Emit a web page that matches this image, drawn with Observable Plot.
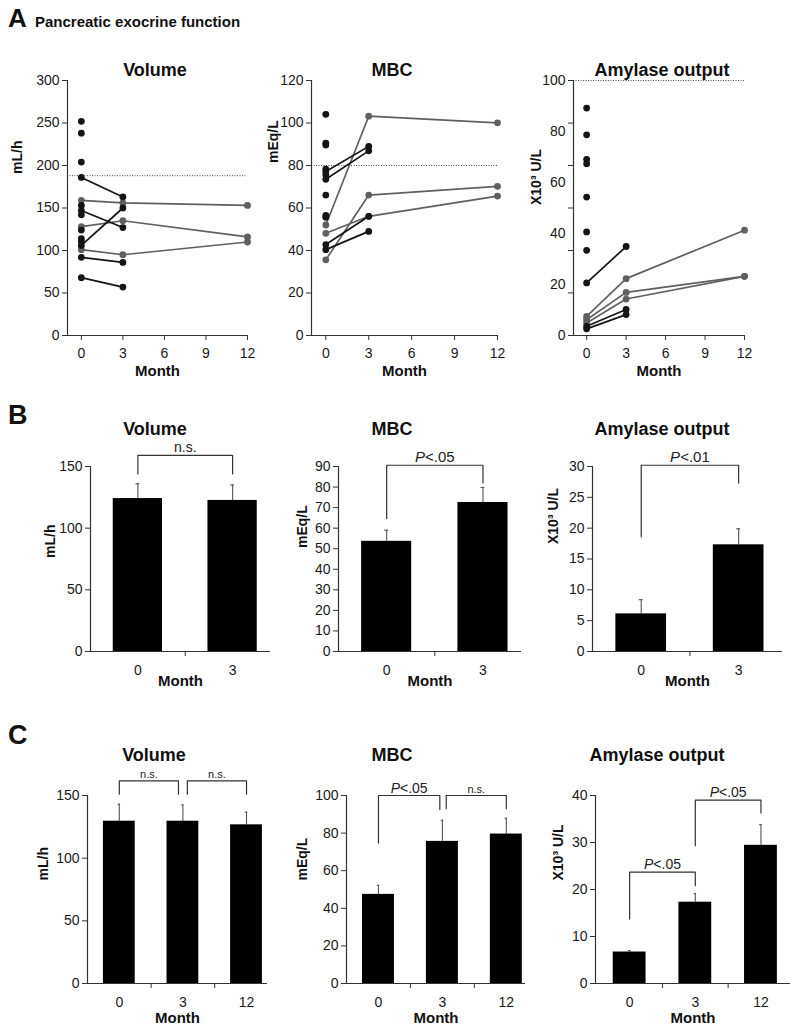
<!DOCTYPE html>
<html>
<head>
<meta charset="utf-8">
<script src="https://cdn.jsdelivr.net/npm/d3@7"></script>
<script src="https://cdn.jsdelivr.net/npm/@observablehq/plot@0.6"></script>
<style>
  html, body { margin: 0; padding: 0; background: #fff; }
  #root { position: relative; width: 800px; height: 1033px; overflow: hidden; background: #fff;
          font-family: 'Liberation Sans', Arial, Helvetica, sans-serif; color: #111; }
  .panel { position: absolute; }
  .lbl { position: absolute; white-space: nowrap; line-height: 1; font-weight: bold; }
</style>
</head>
<body>
<div id="root"></div>
<script>
// ---------------- DATA ----------------
// Panel A: individual patients (months 0, 3, 12)
const monthTicksA = [0, 3, 6, 9, 12];

const volumeA_ticks = [0, 50, 100, 150, 200, 250, 300];
const volumeA_normal = 188;
const volumeA_baselineOnly = [252, 238, 204, 153, 142, 124, 114, 111];
const volumeA_to3 = [[186, 163], [147, 127], [106, 150], [92, 86], [68, 57]];
const volumeA_to12 = [[159, 156, 153], [128, 135, 116], [101, 95, 110]];

const mbcA_ticks = [0, 20, 40, 60, 80, 100, 120];
const mbcA_normal = 80;
const mbcA_baselineOnly = [104.1, 90.5, 89.6, 78.3, 75.6, 66.1, 56.5, 55.6];
const mbcA_to3 = [[77.2, 89], [73.5, 86.9], [42.8, 56.1], [40.4, 49]];
const mbcA_to12 = [[52, 103.2, 100.1], [35.6, 66.1, 70.2], [48.1, 56.1, 65.6]];

const amylaseA_ticks = [0, 20, 40, 60, 80, 100];
const amylaseA_tickMarks = [0, 16.7, 33.3, 50, 66.7, 83.3, 100];
const amylaseA_normal = 100;
const amylaseA_baselineOnly = [89.2, 78.7, 69.1, 67.4, 54.3, 40.6, 33.4];
const amylaseA_to3 = [[20.6, 34.9], [3.6, 10.2], [2.6, 8.2]];
const amylaseA_to12 = [[7.5, 22.3, 41.3], [6.2, 16.9, 23.2], [4.9, 14.3, 23.2]];

// Panel B: mean + SEM, months 0 and 3
const monthsB = ["0", "3"];
const volumeB_mean = [124, 122.5];
const volumeB_sem = [12, 12.5];
const volumeB_ticks = [0, 50, 100, 150];
const mbcB_mean = [53.6, 72.5];
const mbcB_sem = [5.4, 7.3];
const mbcB_ticks = [0, 10, 20, 30, 40, 50, 60, 70, 80, 90];
const amylaseB_mean = [6.1, 17.3];
const amylaseB_sem = [2.3, 2.6];
const amylaseB_ticks = [0, 5, 10, 15, 20, 25, 30];

// Panel C: mean + SEM, months 0, 3, 12
const monthsC = ["0", "3", "12"];
const volumeC_mean = [129.5, 129.5, 126.6];
const volumeC_sem = [13.5, 13, 10.1];
const volumeC_ticks = [0, 50, 100, 150];
const mbcC_mean = [47.4, 75.6, 79.5];
const mbcC_sem = [4.8, 11.2, 8.4];
const mbcC_ticks = [0, 20, 40, 60, 80, 100];
const amylaseC_mean = [6.7, 17.3, 29.4];
const amylaseC_sem = [0.3, 1.8, 4.4];
const amylaseC_ticks = [0, 10, 20, 30, 40];

// Significance brackets: x1/x2 = category index, top = bracket height, y1/y2 = leg ends
const volumeB_brackets = [{x1: 0, x2: 1, top: 159, y1: 144, y2: 144, label: "n.s."}];
const mbcB_brackets = [{x1: 0, x2: 1, top: 90.6, y1: 64.7, y2: 82, label: "P<.05"}];
const amylaseB_brackets = [{x1: 0, x2: 1, top: 30.2, y1: 18.6, y2: 27.3, label: "P<.01"}];
const volumeC_brackets = [
  {x1: 0, x2: 0.93, top: 161.7, y1: 151, y2: 151, label: "n.s."},
  {x1: 1.07, x2: 2, top: 161.7, y1: 151, y2: 151, label: "n.s."}
];
const mbcC_brackets = [
  {x1: 0, x2: 0.96, top: 100, y1: 74.7, y2: 92.5, label: "P<.05"},
  {x1: 1.06, x2: 2, top: 100, y1: 93, y2: 93, label: "n.s."}
];
const amylaseC_brackets = [
  {x1: 0, x2: 1, top: 23.7, y1: 13.7, y2: 20.8, label: "P<.05"},
  {x1: 1, x2: 2, top: 39, y1: 29.3, y2: 36.3, label: "P<.05"}
];

// ---------------- DRAWING ----------------
const FONT = "'Liberation Sans', Arial, Helvetica, sans-serif";
const root = document.getElementById("root");
const baseStyle = {fontFamily: FONT, fontSize: "14px", color: "#1a1a1a", background: "transparent", overflow: "visible"};

function flatten(series, months) {
  const rows = [];
  series.forEach((vals, id) => vals.forEach((v, j) => rows.push({id, month: months[j], value: v})));
  return rows;
}
function yLabelMark(text, dx, dy) {
  return Plot.text([text], {frameAnchor: "left", text: d => d, rotate: -90, dx, dy,
    fontSize: 14, fontWeight: "bold", fill: "#111"});
}
function monthMark(dy) {
  return Plot.text(["Month"], {frameAnchor: "bottom", text: d => d, dy, fontSize: 15, fontWeight: "bold", fill: "#111"});
}
function place(svg, left, top) {
  const d = document.createElement("div");
  d.className = "panel";
  d.style.left = left + "px";
  d.style.top = top + "px";
  d.appendChild(svg);
  root.appendChild(d);
  // italic P in significance labels
  d3.select(svg).selectAll("text").each(function () {
    const t = this.textContent;
    if (/^P</.test(t)) {
      const s = d3.select(this);
      s.text(null);
      s.append("tspan").attr("font-style", "italic").text("P");
      s.append("tspan").text(t.slice(1));
    }
  });
}
function label(text, x, y, size, anchor) {
  const d = document.createElement("div");
  d.className = "lbl";
  d.textContent = text;
  d.style.left = x + "px";
  d.style.top = y + "px";
  d.style.fontSize = size + "px";
  d.style.transform = anchor === "start" ? "translate(0,-50%)" : "translate(-50%,-50%)";
  root.appendChild(d);
}

function scatterPanel(o) {
  const black = "#141414", gray = "#606060";
  const r3 = flatten(o.to3, [0, 3]);
  const r12 = flatten(o.to12, [0, 3, 12]);
  const base = o.baseOnly.map(v => ({month: 0, value: v}));
  const marks = [
    Plot.ruleY([o.normal], {stroke: "#444", strokeDasharray: "1,1.5", strokeWidth: 1}),
    Plot.ruleX([-1], {stroke: "#333", strokeWidth: 1.2}),
    Plot.ruleY([0], {stroke: "#333", strokeWidth: 1.2}),
    Plot.axisX({ticks: monthTicksA, tickSize: 5, tickPadding: 8, stroke: "#333", label: null})
  ];
  if (o.tickMarks) {
    marks.push(Plot.axisY({ticks: o.tickMarks, tickFormat: () => "", tickSize: 5, stroke: "#333", label: null}));
    marks.push(Plot.axisY({ticks: o.ticks, tickSize: 0, tickPadding: 8, label: null}));
  } else {
    marks.push(Plot.axisY({ticks: o.ticks, tickSize: 5, tickPadding: 3, stroke: "#333", label: null}));
  }
  marks.push(
    Plot.line(r12, {x: "month", y: "value", z: "id", stroke: gray, strokeWidth: 1.7}),
    Plot.line(r3, {x: "month", y: "value", z: "id", stroke: black, strokeWidth: 1.7}),
    Plot.dot(r12, {x: "month", y: "value", r: 3.4, fill: gray}),
    Plot.dot(r3, {x: "month", y: "value", r: 3.4, fill: black}),
    Plot.dot(base, {x: "month", y: "value", r: 3.4, fill: black}),
    yLabelMark(o.ylabel, o.ldx, o.ldy),
    monthMark(40)
  );
  return Plot.plot({
    width: o.width, height: 328,
    marginLeft: o.ml, marginRight: o.mr, marginTop: 20, marginBottom: 53,
    style: baseStyle,
    x: {domain: [-1, 12], label: null},
    y: {domain: [0, o.yMax], label: null},
    marks
  });
}

function barPanel(o) {
  const rows = o.cats.map((c, i) => ({i, mean: o.mean[i], hi: o.mean[i] + o.sem[i]}));
  const bRows = [];
  o.brackets.forEach((b, id) => {
    bRows.push({id, x: b.x1, y: b.y1}, {id, x: b.x1, y: b.top}, {id, x: b.x2, y: b.top}, {id, x: b.x2, y: b.y2});
  });
  return Plot.plot({
    width: o.width, height: o.height,
    marginLeft: o.ml, marginRight: o.mr, marginTop: o.mt, marginBottom: o.mb,
    style: baseStyle,
    x: {domain: o.xDomain, label: null},
    y: {domain: [0, o.yMax], label: null},
    marks: [
      Plot.ruleX(rows, {x: "i", y1: "mean", y2: "hi", stroke: "#555", strokeWidth: 1.1}),
      Plot.ruleY(rows, {y: "hi", x1: d => d.i - 0.02, x2: d => d.i + 0.02, stroke: "#555", strokeWidth: 1.1}),
      Plot.rect(rows, {x1: d => d.i - o.half, x2: d => d.i + o.half, y1: 0, y2: "mean", fill: "#000"}),
      Plot.ruleX([o.xDomain[0]], {stroke: "#333", strokeWidth: 1.2}),
      Plot.ruleY([0], {stroke: "#333", strokeWidth: 1.2}),
      Plot.axisY({ticks: o.ticks, tickSize: 5, tickPadding: 3, stroke: "#333", label: null}),
      Plot.axisX({ticks: o.cats.map((c, i) => i), tickFormat: i => o.cats[i], tickSize: 0, tickPadding: 14, label: null}),
      Plot.axisX({ticks: o.cats.slice(1).map((c, i) => i + 0.5), tickFormat: () => "", tickSize: 5, stroke: "#333", label: null}),
      Plot.line(bRows, {x: "x", y: "y", z: "id", stroke: "#333", strokeWidth: 1.2}),
      Plot.text(o.brackets, {x: b => (b.x1 + b.x2) / 2, y: "top", text: "label", lineAnchor: "bottom", dy: -3,
        fontSize: b => (b.label === "n.s." ? o.nsSize : o.pSize), fill: "#222"}),
      yLabelMark(o.ylabel, o.ldx, o.ldy),
      monthMark(o.monthDy)
    ]
  });
}

// ---- Panel A ----
place(scatterPanel({to3: volumeA_to3, to12: volumeA_to12, baseOnly: volumeA_baselineOnly, normal: volumeA_normal,
  ticks: volumeA_ticks, yMax: 300, ylabel: "mL/h", ldx: -50, ldy: -34, width: 262, ml: 67, mr: 15}), 0, 60);
place(scatterPanel({to3: mbcA_to3, to12: mbcA_to12, baseOnly: mbcA_baselineOnly, normal: mbcA_normal,
  ticks: mbcA_ticks, yMax: 120, ylabel: "mEq/L", ldx: -38, ldy: -45, width: 240, ml: 41, mr: 13}), 270, 60);
place(scatterPanel({to3: amylaseA_to3, to12: amylaseA_to12, baseOnly: amylaseA_baselineOnly, normal: amylaseA_normal,
  ticks: amylaseA_ticks, tickMarks: amylaseA_tickMarks, yMax: 100, ylabel: "X10³ U/L", ldx: -37, ldy: -3,
  width: 265, ml: 43, mr: 51}), 530, 60);

// ---- Panel B ----
const bCommon = {cats: monthsB, height: 250, mt: 26, mb: 39, half: 0.26, monthDy: 34, nsSize: 14, pSize: 15};
place(barPanel({...bCommon, mean: volumeB_mean, sem: volumeB_sem, brackets: volumeB_brackets, ticks: volumeB_ticks,
  yMax: 150, ylabel: "mL/h", ldx: -40, ldy: -1, xDomain: [-0.5, 1.4], width: 275, ml: 90, mr: 5}), 0, 440);
place(barPanel({...bCommon, mean: mbcB_mean, sem: mbcB_sem, brackets: mbcB_brackets, ticks: mbcB_ticks,
  yMax: 90, ylabel: "mEq/L", ldx: -36, ldy: -11, xDomain: [-0.5, 1.4], width: 260, ml: 68, mr: 9}), 270, 440);
place(barPanel({...bCommon, mean: amylaseB_mean, sem: amylaseB_sem, brackets: amylaseB_brackets, ticks: amylaseB_ticks,
  yMax: 30, ylabel: "X10³ U/L", ldx: -39, ldy: -15, xDomain: [-0.5, 1.45], width: 265, ml: 62, mr: 13}), 530, 440);

// ---- Panel C ----
const cCommon = {cats: monthsC, height: 278, mt: 40, mb: 50, half: 0.25, monthDy: 39, nsSize: 11, pSize: 14};
place(barPanel({...cCommon, mean: volumeC_mean, sem: volumeC_sem, brackets: volumeC_brackets, ticks: volumeC_ticks,
  yMax: 150, ylabel: "mL/h", ldx: -44, ldy: -9, xDomain: [-0.5, 2.33], width: 272, ml: 87, mr: 5}), 0, 755);
place(barPanel({...cCommon, mean: mbcC_mean, sem: mbcC_sem, brackets: mbcC_brackets, ticks: mbcC_ticks,
  yMax: 100, ylabel: "mEq/L", ldx: -44, ldy: -9, xDomain: [-0.5, 2.3], width: 260, ml: 76, mr: 5}), 270, 755);
place(barPanel({...cCommon, mean: amylaseC_mean, sem: amylaseC_sem, brackets: amylaseC_brackets, ticks: amylaseC_ticks,
  yMax: 40, ylabel: "X10³ U/L", ldx: -37, ldy: -9, xDomain: [-0.52, 2.45], width: 268, ml: 65, mr: 8}), 530, 755);

// ---- Titles and panel letters ----
label("A", 8, 18, 26, "start");
label("Pancreatic exocrine function", 35, 21, 15, "start");
label("B", 8, 415, 27, "start");
label("C", 8, 735, 27, "start");
const titles = ["Volume", "MBC", "Amylase output"];
const titleXA = [155, 392, 662];
const titleXC = [154, 392, 657];
titles.forEach((t, i) => {
  label(t, titleXA[i], 70, 18);
  label(t, titleXA[i], 429, 18);
  label(t, titleXC[i], 755, 18);
});
</script>
</body>
</html>
